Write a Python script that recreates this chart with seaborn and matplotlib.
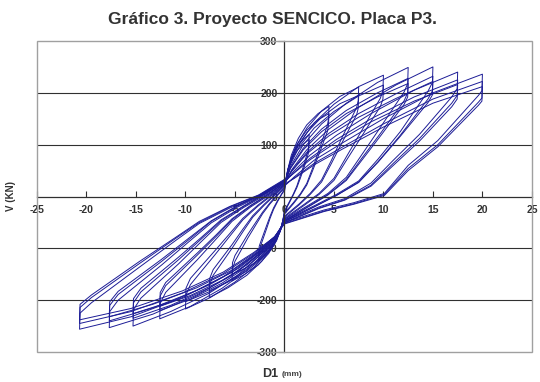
import matplotlib
matplotlib.use("Agg")
import matplotlib.pyplot as plt
import seaborn as sns
from matplotlib.patches import Rectangle

# Hysteresis data: D1 (mm) per displacement amplitude, V (kN) for the cycles at each amplitude
d_a1 = [0, 0.15, 0.4, 0.8, 1.25, 1.9, 2.5, 2.45, 2.4, 1.95, 1.6, 1.25, 0.9, 0.5, 0,
        -0.15, -0.4, -0.8, -1.3, -1.95, -2.6, -2.55, -2.35, -1.8, -1.45, -1.1, -0.7, -0.35, 0]
v_a1_c1 = [8, 30, 55, 78, 95, 110, 120, 100, 90, 60, 40, 20, 5, -10, -28,
           -45, -65, -85, -100, -114, -124, -104, -92, -62, -42, -25, -10, 2, 12]
v_a1_c2 = [12, 32, 55, 74, 88, 101, 110, 92, 82, 54, 35, 17, 3, -12, -30,
           -46, -63, -80, -93, -105, -114, -96, -85, -56, -38, -22, -8, 3, 14]

d_a2 = [0, 0.25, 0.7, 1.4, 2.25, 3.4, 4.5, 4.45, 4.35, 3.5, 2.85, 2.25, 1.6, 0.9, 0,
        -0.3, -0.8, -1.6, -2.65, -4.0, -5.3, -5.25, -5.0, -3.7, -2.9, -2.2, -1.45, -0.7, 0]
v_a2_c1 = [14, 45, 80, 112, 138, 160, 174, 150, 138, 90, 55, 25, 5, -12, -32,
           -58, -85, -110, -132, -150, -163, -140, -125, -80, -55, -33, -14, 2, 16]
v_a2_c2 = [16, 44, 76, 104, 128, 148, 160, 138, 126, 82, 50, 22, 3, -14, -34,
           -58, -82, -104, -124, -139, -150, -128, -114, -73, -50, -30, -12, 4, 18]

d_a3 = [0, 0.4, 1.1, 2.3, 3.75, 5.6, 7.5, 7.45, 7.3, 5.85, 4.75, 3.75, 2.6, 1.5, 0,
        -0.4, -1.1, -2.3, -3.8, -5.7, -7.6, -7.55, -7.2, -5.3, -4.2, -3.2, -2.05, -1.0, 0]
v_a3_c1 = [18, 55, 95, 133, 165, 193, 211, 185, 172, 115, 70, 32, 6, -14, -38,
           -65, -95, -125, -152, -176, -195, -170, -152, -100, -68, -40, -17, 2, 20]
v_a3_c2 = [20, 54, 90, 124, 153, 179, 195, 170, 158, 105, 64, 28, 4, -16, -40,
           -66, -93, -120, -144, -165, -182, -158, -141, -93, -63, -37, -15, 4, 22]

d_a4 = [0, 0.5, 1.5, 3.0, 5.0, 7.5, 10, 9.95, 9.7, 7.8, 6.3, 5.0, 3.5, 2.0, 0,
        -0.5, -1.5, -3.0, -5.0, -7.5, -10, -9.95, -9.5, -7.0, -5.5, -4.2, -2.7, -1.3, 0]
v_a4_c1 = [20, 60, 102, 142, 178, 212, 234, 205, 190, 127, 78, 35, 6, -15, -42,
           -70, -102, -135, -165, -195, -217, -190, -170, -112, -76, -45, -19, 2, 22]
v_a4_c2 = [22, 58, 96, 132, 164, 194, 215, 188, 174, 116, 71, 31, 4, -17, -44,
           -70, -99, -129, -156, -183, -203, -177, -158, -104, -71, -42, -17, 4, 24]

d_a5 = [0, 0.6, 1.9, 3.75, 6.25, 9.4, 12.5, 12.45, 12.1, 9.75, 7.9, 6.25, 4.4, 2.5, 0,
        -0.6, -1.9, -3.8, -6.3, -9.5, -12.6, -12.55, -12.0, -8.8, -6.9, -5.3, -3.4, -1.6, 0]
v_a5_c1 = [22, 58, 100, 140, 180, 220, 249, 218, 202, 135, 83, 37, 6, -16, -44,
           -72, -106, -142, -177, -212, -236, -206, -185, -122, -82, -48, -20, 2, 24]
v_a5_c2 = [24, 55, 93, 130, 166, 200, 228, 200, 185, 123, 76, 33, 4, -18, -46,
           -72, -103, -136, -167, -198, -220, -192, -172, -113, -77, -45, -18, 4, 26]
v_a5_c3 = [26, 54, 90, 125, 160, 192, 218, 192, 178, 118, 72, 31, 3, -19, -47,
           -72, -101, -132, -162, -191, -212, -185, -166, -109, -74, -43, -17, 5, 27]

d_a6 = [0, 0.75, 2.25, 4.5, 7.5, 11.25, 15, 14.95, 14.5, 11.7, 9.45, 7.5, 5.25, 3.0, 0,
        -0.75, -2.3, -4.6, -7.65, -11.5, -15.3, -15.25, -14.5, -10.7, -8.4, -6.4, -4.1, -2.0, 0]
v_a6_c1 = [24, 52, 90, 130, 172, 215, 250, 220, 203, 125, 72, 30, 4, -18, -46,
           -74, -110, -150, -187, -222, -250, -218, -196, -130, -87, -50, -21, 2, 26]
v_a6_c2 = [26, 50, 85, 122, 160, 198, 232, 204, 188, 118, 67, 28, 2, -20, -48,
           -74, -106, -143, -177, -210, -235, -205, -184, -122, -82, -47, -19, 4, 28]
v_a6_c3 = [28, 49, 82, 117, 153, 189, 222, 196, 181, 116, 66, 27, 2, -20, -48,
           -74, -104, -138, -171, -203, -226, -197, -177, -117, -79, -45, -18, 5, 29]

d_a7 = [0, 0.9, 2.6, 5.25, 8.75, 13.1, 17.5, 17.45, 16.9, 13.65, 11.0, 8.75, 6.1, 3.5, 0,
        -0.9, -2.65, -5.3, -8.85, -13.3, -17.7, -17.65, -16.8, -12.4, -9.7, -7.4, -4.8, -2.3, 0]
v_a7_c1 = [26, 48, 80, 118, 160, 205, 240, 208, 192, 120, 70, 26, -4, -20, -48,
           -76, -112, -152, -190, -227, -253, -222, -200, -132, -88, -51, -21, 2, 28]
v_a7_c2 = [28, 45, 74, 110, 150, 192, 225, 195, 180, 112, 64, 22, -6, -22, -50,
           -76, -108, -146, -181, -215, -240, -210, -189, -125, -84, -48, -19, 4, 30]
v_a7_c3 = [30, 44, 71, 105, 144, 184, 216, 188, 173, 107, 60, 20, -7, -23, -51,
           -76, -106, -142, -176, -208, -232, -203, -183, -121, -81, -47, -18, 5, 31]

d_a8 = [0, 1.0, 3.0, 6.0, 10.0, 15.0, 20, 19.95, 19.6, 15.5, 12.5, 10.1, 7.0, 4.0, 0,
        -1.0, -3.1, -6.2, -10.3, -15.5, -20.7, -20.65, -19.5, -14.7, -11.0, -8.6, -5.5, -2.6, 0]
v_a8_c1 = [20, 38, 70, 105, 150, 200, 236, 204, 195, 108, 60, 6, -12, -26, -50,
           -78, -114, -155, -195, -232, -256, -225, -205, -137, -85, -52, -22, 0, 30]
v_a8_c2 = [22, 36, 64, 97, 140, 188, 222, 190, 182, 100, 54, 4, -14, -28, -52,
           -78, -110, -149, -186, -222, -245, -214, -195, -130, -81, -50, -20, 2, 32]
v_a8_c3 = [24, 35, 61, 93, 134, 180, 212, 184, 176, 96, 50, 2, -15, -29, -53,
           -78, -108, -146, -182, -216, -238, -208, -190, -126, -79, -48, -19, 3, 33]

x_ticks = [-25, -20, -15, -10, -5, 0, 5, 10, 15, 20, 25]
y_ticks = [-300, -200, -100, 0, 100, 200, 300]

cycles = [
    (d_a1, v_a1_c1), (d_a1, v_a1_c2),
    (d_a2, v_a2_c1), (d_a2, v_a2_c2),
    (d_a3, v_a3_c1), (d_a3, v_a3_c2),
    (d_a4, v_a4_c1), (d_a4, v_a4_c2),
    (d_a5, v_a5_c1), (d_a5, v_a5_c2), (d_a5, v_a5_c3),
    (d_a6, v_a6_c1), (d_a6, v_a6_c2), (d_a6, v_a6_c3),
    (d_a7, v_a7_c1), (d_a7, v_a7_c2), (d_a7, v_a7_c3),
    (d_a8, v_a8_c1), (d_a8, v_a8_c2), (d_a8, v_a8_c3),
]

sns.set_style("white")
plt.rcParams['font.family'] = ['Liberation Sans', 'DejaVu Sans']

fig = plt.figure(figsize=(5.4, 3.82), dpi=100)
ax = fig.add_axes([0.0685, 0.0785, 0.9165, 0.8142])

line_color = '#1c1c96'
for dx, vy in cycles:
    sns.lineplot(x=dx, y=vy, sort=False, estimator=None, color=line_color,
                 lw=0.7, ax=ax)

ax.set_xlim(-25, 25)
ax.set_ylim(-300, 300)

for yv in [-200, -100, 100, 200]:
    ax.axhline(yv, color='#303030', lw=0.8, zorder=0)

ax.add_patch(Rectangle((0, 0), 1, 1, transform=ax.transAxes, fill=False,
                       edgecolor='#a0a0a0', lw=1.0, clip_on=False, zorder=5))

for s in ['top', 'right']:
    ax.spines[s].set_visible(False)
ax.spines['left'].set_position(('data', 0))
ax.spines['bottom'].set_position(('data', 0))
for s in ['left', 'bottom']:
    ax.spines[s].set_color('#303030')
    ax.spines[s].set_linewidth(0.9)

ax.set_xticks(x_ticks)
ax.set_yticks(y_ticks)
ax.set_xticklabels([str(t) for t in x_ticks])
ax.set_yticklabels([str(t) for t in y_ticks])
ax.tick_params(axis='x', direction='in', length=4, width=0.8, color='#303030',
               labelsize=7.5, labelcolor='#333333', pad=6, bottom=True)
ax.tick_params(axis='y', direction='out', length=4, width=0.8, color='#303030',
               labelsize=7.5, labelcolor='#333333', pad=1, left=True)
for lab in ax.get_yticklabels() + ax.get_xticklabels():
    lab.set_fontweight('bold')

ax.set_xlabel('')
ax.set_ylabel('')

fig.text(0.505, 0.948, 'Gráfico 3. Proyecto SENCICO. Placa P3.', ha='center', va='center',
         fontsize=12.5, fontweight='bold', color='#333333')
fig.text(0.02, 0.487, 'V (KN)', ha='center', va='center', rotation=90,
         fontsize=7, fontweight='bold', color='#333333')
fig.text(0.516, 0.022, 'D1', ha='right', va='center', fontsize=9, fontweight='bold',
         color='#333333')
fig.text(0.522, 0.019, '(mm)', ha='left', va='center', fontsize=6, fontweight='bold',
         color='#444444')

fig.savefig('out.png', dpi=100)
